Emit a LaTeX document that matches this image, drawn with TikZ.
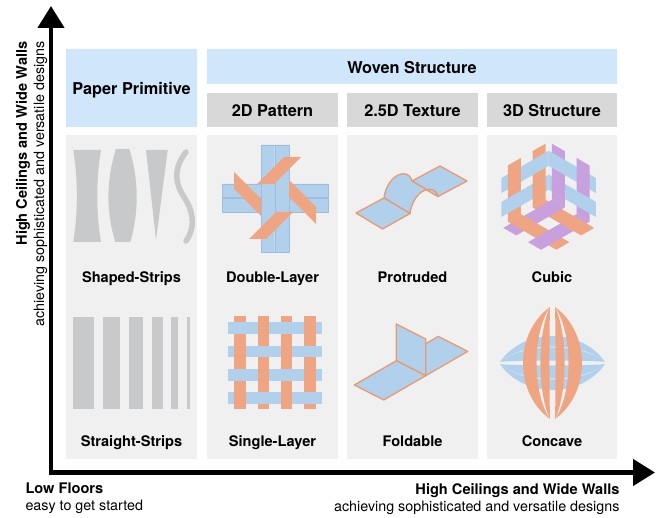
\documentclass[tikz,border=0pt]{standalone}
\usepackage{fontspec}
\setmainfont{TeX Gyre Heros}
\usetikzlibrary{arrows.meta}
\definecolor{hdrblue}{RGB}{208,230,250}
\definecolor{hdrgray}{RGB}{216,216,216}
\definecolor{cellgray}{RGB}{240,240,240}
\definecolor{stripgray}{RGB}{200,201,203}
\definecolor{wblue}{RGB}{176,208,236}
\definecolor{wbluedk}{RGB}{158,190,220}
\definecolor{worange}{RGB}{240,165,130}
\definecolor{wedge}{RGB}{236,152,112}
\definecolor{wpurple}{RGB}{200,160,222}
\tikzset{
  hdrtxt/.style={font=\bfseries\fontsize{16.3}{19}\selectfont,anchor=base},
  lbltxt/.style={font=\bfseries\fontsize{14.6}{17}\selectfont,anchor=base},
  subtxt/.style={font=\fontsize{14.3}{17}\selectfont},
  sheet/.style={fill=wblue,draw=wedge,line width=1.3pt,line join=round},
}
\begin{document}
\begin{tikzpicture}[x=1pt,y=-1pt,>={Triangle[width=26pt,length=22pt]},line join=round]
\useasboundingbox (0,0) rectangle (656,518);
\path
(51,472.5) coordinate (O)
(51,6) coordinate (ytip)
(655,472.5) coordinate (xtip)
;
% headers
\fill[hdrblue] (66,49) rectangle (197,127) (207,49) rectangle (617,84);
\node[hdrtxt] (paper) at (131.5,94.5) {Paper Primitive};
\node[hdrtxt] (woven) at (412,74) {Woven Structure};
\foreach \xa/\xb/\nm/\txt in {207/338/pat/2D Pattern,347/478/tex/2.5D Texture,487/617/str/3D Structure}{
  \fill[hdrgray] (\xa,93) rectangle (\xb,127);
  \node[hdrtxt] (\nm) at ({(\xa+\xb)/2},116.7) {\txt};
}
\foreach \xa/\xb/\up/\dn/\uptxt/\dntxt in {66/197/shaped/straight/Shaped-Strips/Straight-Strips,207/338/double/single/Double-Layer/Single-Layer,347/478/protr/fold/Protruded/Foldable,487/617/cubic/concave/Cubic/Concave}{
  \fill[cellgray] (\xa,135) rectangle (\xb,459);
  \node[lbltxt] (\up) at ({(\xa+\xb)/2},282.5) {\uptxt};
  \node[lbltxt] (\dn) at ({(\xa+\xb)/2},446.5) {\dntxt};
}
% paper primitives
\fill[stripgray] (73.3,150) -- (101,150) .. controls (96,180) and (96,212) .. (101,242) -- (73.3,242) .. controls (78,212) and (78,180) .. (73.3,150) -- cycle;
\fill[stripgray] (116,149) -- (129.3,149) .. controls (139,180) and (139,212) .. (130.3,242) -- (115.3,242) .. controls (106,212) and (106,180) .. (116,149) -- cycle;
\fill[stripgray] (146,150) -- (167.7,150) -- (156,240) -- cycle;
\draw[stripgray,line width=5.5pt,line cap=round] (186,152) .. controls (172,170) and (176,185) .. (184,197) .. controls (192,209) and (197,225) .. (186,241);
\foreach \xa/\xb in {73.3/94.3,102.7/120,128.7/142.7,152/162.7,171/178.3,186.7/190}
  \fill[stripgray] (\xa,317) rectangle (\xb,409);
% 2D pattern
\begin{scope}[shift={(275,198)}]
  \fill[wblue,draw=wbluedk,line width=.4pt] (-53,-14) rectangle (53,-.3) (-53,.3) rectangle (53,14);
  \fill[wblue,draw=wbluedk,line width=.4pt] (-14,-53) rectangle (-.3,54) (.3,-53) rectangle (14,54);
  \foreach \a in {0,90,180,270}
    \fill[worange,rotate=\a] (9,-41) -- (26,-41) -- (-1,-14) -- (-18,-14) -- cycle;
\end{scope}
\foreach \c in {0,...,3}
  \fill[worange] (234.3+23.3*\c,315.7) rectangle ++(11.4,93.6);
\foreach \r in {0,...,3}
  \fill[wblue] (227.7,322.3+23.3*\r) rectangle ++(94,11.7);
\foreach \r/\c in {0/1,0/3,1/0,1/2,2/1,2/3,3/0,3/2}
  \fill[worange] (234.3+23.3*\c,322.3+23.3*\r) rectangle ++(11.4,11.7);
% 2.5D texture
\path[sheet] (412,181) -- (440,166) -- (467,181) -- (438,196.5) -- cycle;
\path[sheet] (384,198) .. controls (387,175) and (408,166) .. (412,181) -- (438,196.5) .. controls (434,181.5) and (413,190.5) .. (410,213.5) -- cycle;
\path[sheet] (356,213) -- (384,198) -- (410,213.5) -- (382.5,229) -- cycle;
\path[sheet] (396.3,360.7) -- (425.7,375.7) -- (467.7,351.4) -- (438.3,336.4) -- cycle;
\path[sheet] (396.3,360.7) -- (396.3,324) -- (425.7,339) -- (425.7,375.7) -- cycle;
\path[sheet] (354.3,385) -- (396.3,360.7) -- (425.7,375.7) -- (383.7,400) -- cycle;
% 3D structure
\begin{scope}[shift={(548.7,198)}]
  \begin{scope}[x={(-45pt,-26pt)},y={(45pt,-26pt)}]
    \foreach \p in {.07,.62} \fill[worange] (\p,0) -- (\p+.29,0) -- (\p+.29,1.08) -- (\p,1.08) -- cycle;
    \foreach \q in {.07,.62} \fill[wpurple] (0,\q) -- (0,\q+.29) -- (1.08,\q+.29) -- (1.08,\q) -- cycle;
    \foreach \p/\q in {.62/.07,.07/.62} \fill[worange] (\p,\q) -- (\p+.29,\q) -- (\p+.29,\q+.29) -- (\p,\q+.29) -- cycle;
  \end{scope}
  \foreach \s/\col in {-45/worange,45/wpurple}{
  \begin{scope}[x={(\s pt,-26pt)},y={(0pt,52pt)}]
    \foreach \a in {.07,.62} \fill[\col] (\a,0) -- (\a+.29,0) -- (\a+.29,1.08) -- (\a,1.08) -- cycle;
    \foreach \h in {.16,.62} \fill[wblue] (0,\h) -- (1.05,\h) -- (1.05,\h+.29) -- (0,\h+.29) -- cycle;
    \foreach \a/\h in {.62/.62,.07/.16} \fill[\col] (\a,\h) -- (\a+.29,\h) -- (\a+.29,\h+.29) -- (\a,\h+.29) -- cycle;
  \end{scope}}
\end{scope}
% concave
\begin{scope}[shift={(552.5,363)}]
  \foreach \t/\ca/\cb in {-1.2/-35.6/-21.6,1.2/35.6/21.6,-1.2/-20.3/-2.9,1.2/2.9/20.3}
    \fill[wblue] (-52.5,\t) .. controls (-28,\ca) and (28,\ca) .. (52.5,\t) .. controls (28,\cb) and (-28,\cb) .. (-52.5,\t) -- cycle;
  \foreach \t/\ca/\cb in {-2.5/-38.5/-20.5,2.5/20.5/38.5,-2.5/-15.2/-3.2,2.5/3.2/15.2}
    \fill[worange] (\t,-56) .. controls (\ca,-30) and (\ca,30) .. (\t,56) .. controls (\cb,30) and (\cb,-30) .. (\t,-56) -- cycle;
\end{scope}
% axes
\draw[line width=4.5pt,line join=miter,<->] (ytip) -- (O) -- (xtip);
\node[lbltxt,anchor=base east,rotate=90] (ylab) at (27,38) {High Ceilings and Wide Walls};
\node[subtxt,anchor=base east,rotate=90] (ysub) at (44,38) {achieving sophisticated and versatile designs};
\node[lbltxt,anchor=base west] (xlow) at (22,493) {Low Floors};
\node[subtxt,anchor=base west] (xlowsub) at (22,510) {easy to get started};
\node[lbltxt,anchor=base east] (xhigh) at (623,494) {High Ceilings and Wide Walls};
\node[subtxt,anchor=base east] (xhighsub) at (623,511) {achieving sophisticated and versatile designs};
\end{tikzpicture}
\end{document}
